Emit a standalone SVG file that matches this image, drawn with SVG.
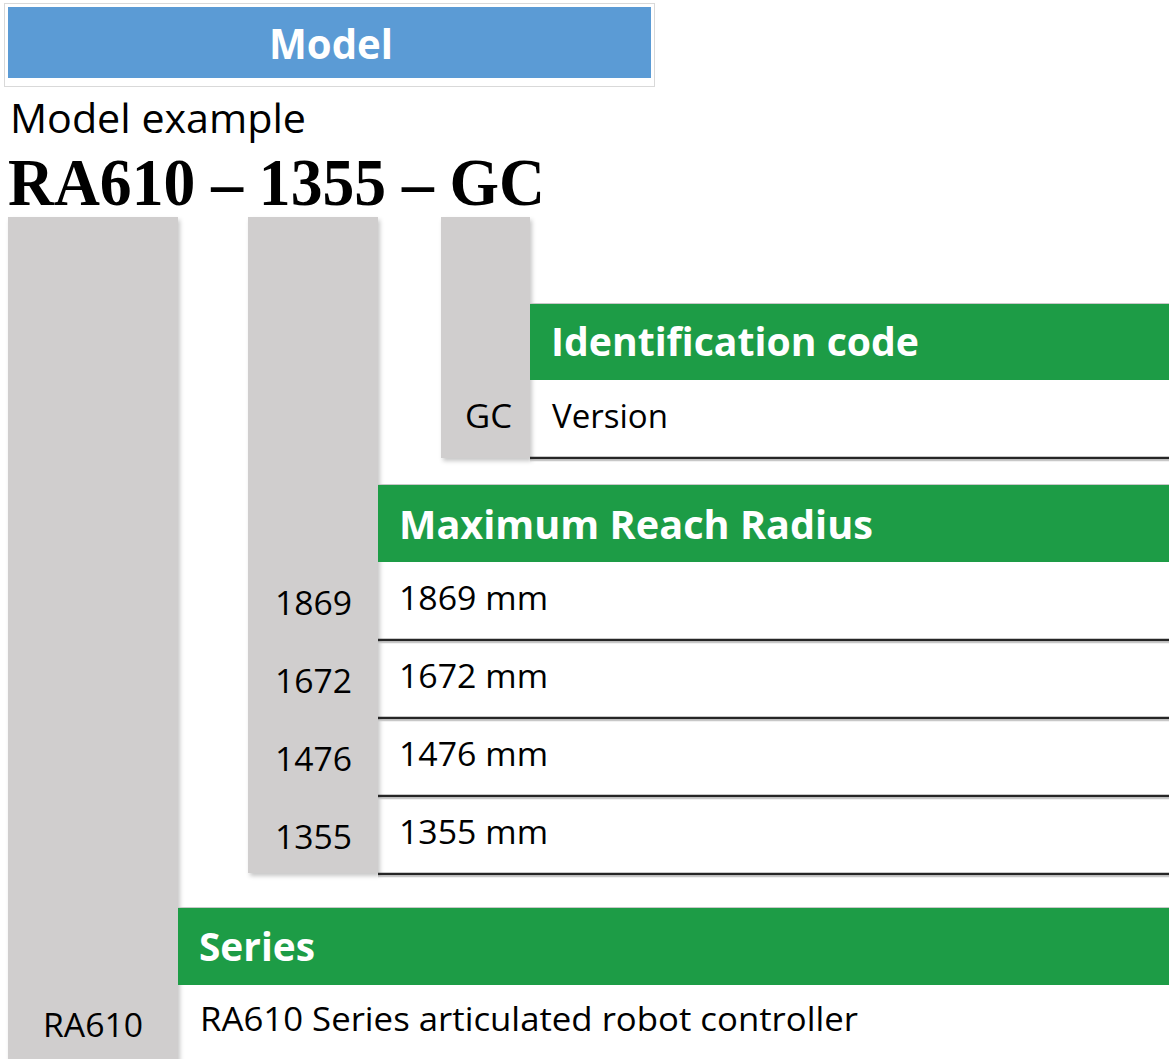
<svg xmlns="http://www.w3.org/2000/svg" width="1169" height="1059" viewBox="0 0 1169 1059">
  <style>
    .hdr { font-family: "Open Sans", "Noto Sans", sans-serif; font-weight: bold; font-size: 40px; fill: #ffffff; }
    .body { font-family: "Open Sans", "Noto Sans", sans-serif; font-size: 33px; fill: #000000; }
    .code { font-family: "Liberation Serif", "Times New Roman", serif; font-weight: bold; font-size: 68px; fill: #000000; }
    .col { fill: #D0CECE; }
    .green { fill: #1D9C46; }
    .sep { stroke: #262626; stroke-width: 2.5; }
    .sepShadow { stroke: #c8c8c8; stroke-width: 1.5; }
    .topEdge { stroke: #c8c8c8; stroke-width: 1; }
  </style>
  <defs>
    <filter id="shadow" x="-10%" y="-5%" width="130%" height="115%">
      <feDropShadow dx="2" dy="3" stdDeviation="2" flood-color="#000000" flood-opacity="0.22"/>
    </filter>
  </defs>
  <rect width="1169" height="1059" fill="#ffffff"/>

  <g id="title">
    <rect x="4.5" y="3.5" width="650" height="83" fill="#ffffff" stroke="#d9d9d9" stroke-width="1"/>
    <rect x="8" y="7" width="643" height="71" fill="#5B9BD5"/>
    <text x="331" y="59" class="hdr" style="font-size:42px" text-anchor="middle" textLength="124" lengthAdjust="spacingAndGlyphs">Model</text>
  </g>

  <g id="example">
    <text x="10" y="133" class="body" style="font-size:40px" textLength="296" lengthAdjust="spacingAndGlyphs">Model example</text>
    <text x="8" y="205" class="code" textLength="537" lengthAdjust="spacingAndGlyphs">RA610 – 1355 – GC</text>
  </g>

  <g id="columns">
    <rect id="col-series" x="8" y="217" width="170" height="850" class="col" filter="url(#shadow)"/>
    <rect id="col-reach" x="248" y="217" width="130" height="656" class="col" filter="url(#shadow)"/>
    <rect id="col-id" x="441" y="217" width="89" height="241" class="col" filter="url(#shadow)"/>
  </g>

  <g id="identification">
    <line x1="530" y1="303.5" x2="1169" y2="303.5" class="topEdge"/>
    <rect x="530" y="304" width="639" height="76" class="green"/>
    <text x="551" y="356" class="hdr" textLength="368" lengthAdjust="spacingAndGlyphs">Identification code</text>
    <text x="512" y="428" class="body" text-anchor="end" textLength="47" lengthAdjust="spacingAndGlyphs">GC</text>
    <text x="552" y="428" class="body" textLength="116" lengthAdjust="spacingAndGlyphs">Version</text>
    <line x1="530" y1="460.5" x2="1169" y2="460.5" class="sepShadow"/>
    <line x1="530" y1="458" x2="1169" y2="458" class="sep"/>
  </g>

  <g id="reach">
    <line x1="378" y1="484.5" x2="1169" y2="484.5" class="topEdge"/>
    <rect x="378" y="485" width="791" height="77" class="green"/>
    <text x="399" y="539" class="hdr" textLength="474" lengthAdjust="spacingAndGlyphs">Maximum Reach Radius</text>

    <text x="352" y="615" class="body" text-anchor="end" textLength="77" lengthAdjust="spacingAndGlyphs">1869</text>
    <text x="399" y="610" class="body" textLength="149" lengthAdjust="spacingAndGlyphs">1869 mm</text>
    <line x1="378" y1="642.5" x2="1169" y2="642.5" class="sepShadow"/>
    <line x1="378" y1="640" x2="1169" y2="640" class="sep"/>

    <text x="352" y="693" class="body" text-anchor="end" textLength="77" lengthAdjust="spacingAndGlyphs">1672</text>
    <text x="399" y="688" class="body" textLength="149" lengthAdjust="spacingAndGlyphs">1672 mm</text>
    <line x1="378" y1="720.5" x2="1169" y2="720.5" class="sepShadow"/>
    <line x1="378" y1="718" x2="1169" y2="718" class="sep"/>

    <text x="352" y="771" class="body" text-anchor="end" textLength="77" lengthAdjust="spacingAndGlyphs">1476</text>
    <text x="399" y="766" class="body" textLength="149" lengthAdjust="spacingAndGlyphs">1476 mm</text>
    <line x1="378" y1="798.5" x2="1169" y2="798.5" class="sepShadow"/>
    <line x1="378" y1="796" x2="1169" y2="796" class="sep"/>

    <text x="352" y="849" class="body" text-anchor="end" textLength="77" lengthAdjust="spacingAndGlyphs">1355</text>
    <text x="399" y="844" class="body" textLength="149" lengthAdjust="spacingAndGlyphs">1355 mm</text>
    <line x1="378" y1="876.5" x2="1169" y2="876.5" class="sepShadow"/>
    <line x1="378" y1="874" x2="1169" y2="874" class="sep"/>
  </g>

  <g id="series">
    <line x1="178" y1="907.5" x2="1169" y2="907.5" class="topEdge"/>
    <rect x="178" y="908" width="991" height="77" class="green"/>
    <text x="199" y="961" class="hdr" textLength="116" lengthAdjust="spacingAndGlyphs">Series</text>
    <text x="143" y="1037" class="body" text-anchor="end" textLength="100" lengthAdjust="spacingAndGlyphs">RA610</text>
    <text x="200" y="1031" class="body" textLength="658" lengthAdjust="spacingAndGlyphs">RA610 Series articulated robot controller</text>
  </g>

  <g id="connectors"/>
</svg>
